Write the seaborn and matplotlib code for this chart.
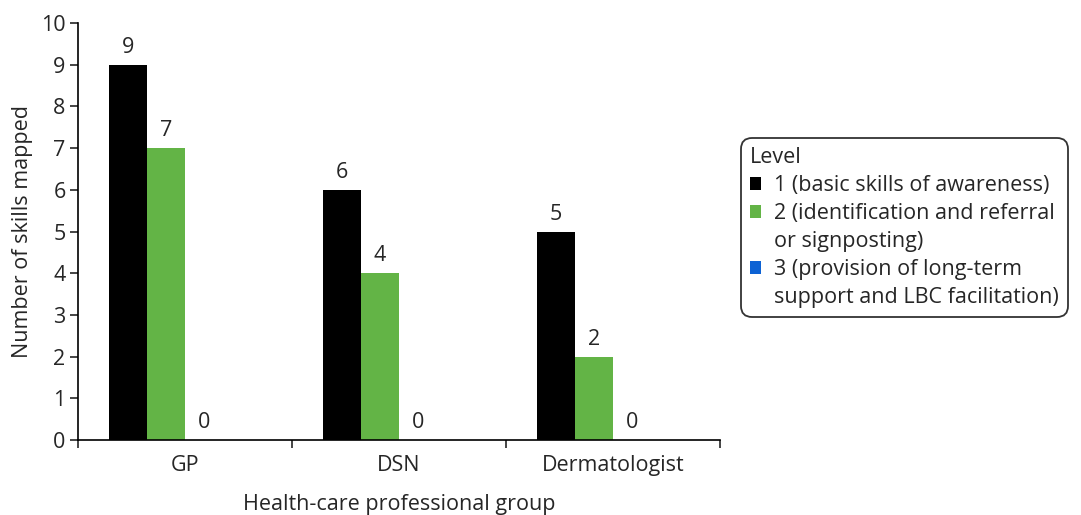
import matplotlib
matplotlib.use("Agg")
import matplotlib.pyplot as plt
import matplotlib.patches as mpatches
import seaborn as sns
import pandas as pd

groups = ["GP", "DSN", "Dermatologist"]
level1 = [9, 6, 5]
level2 = [7, 4, 2]
level3 = [0, 0, 0]
levels = ["1", "2", "3"]
level_labels = [
    "1 (basic skills of awareness)",
    "2 (identification and referral\nor signposting)",
    "3 (provision of long-term\nsupport and LBC facilitation)",
]
colors = ["#000000", "#63b446", "#0d62d4"]

sns.set_theme(style="white")
plt.rcParams["font.family"] = ["Open Sans", "DejaVu Sans"]

df = pd.DataFrame({
    "group": groups * 3,
    "level": ["1"] * 3 + ["2"] * 3 + ["3"] * 3,
    "value": level1 + level2 + level3,
})

fig = plt.figure(figsize=(10.81, 5.15), dpi=100)
ax = fig.add_axes([0.0722, 0.1456, 0.5938, 0.8097])

# a fourth (empty) slot keeps the bars left of the group centre, like the original
sns.barplot(data=df, x="group", y="value", hue="level",
            hue_order=levels + ["4"], order=groups,
            palette=colors + ["#ffffff"], width=0.71, dodge=True,
            saturation=1, linewidth=0, legend=False, ax=ax, errorbar=None)

fs = 15.5
for cont in ax.containers:
    ax.bar_label(cont, fmt="%d", padding=5, fontsize=fs)

ax.set_xlim(-0.5, 2.5)
ax.set_ylim(0, 10)
ax.set_yticks(range(0, 11))
ax.set_xticks([-0.5, 0.5, 1.5, 2.5], minor=True)
ax.tick_params(axis="x", which="major", length=0, labelsize=fs, pad=11)
ax.tick_params(axis="x", which="minor", length=6, width=1.2, bottom=True, direction="out")
ax.tick_params(axis="y", length=6, width=1.2, labelsize=fs, left=True, direction="out", pad=3)
sns.despine(ax=ax)
for s in ["left", "bottom"]:
    ax.spines[s].set_linewidth(1.2)
    ax.spines[s].set_color("black")

ax.set_xlabel("Health-care professional group", fontsize=fs, labelpad=13)
ax.set_ylabel("Number of skills mapped", fontsize=fs, labelpad=6)

# legend: continuation lines get an invisible handle so they indent like the text
handles, labels = [], []
for lab, col in zip(level_labels, colors):
    parts = lab.split("\n")
    handles.append(mpatches.Patch(facecolor=col, edgecolor="none"))
    labels.append(parts[0])
    for p in parts[1:]:
        handles.append(mpatches.Patch(facecolor="none", edgecolor="none"))
        labels.append(p)

leg = fig.legend(handles, labels, title="Level", loc="upper left",
                 bbox_to_anchor=(0.6855, 0.732), borderaxespad=0,
                 fontsize=fs, title_fontsize=fs,
                 frameon=True, fancybox=True, handlelength=0.55, handleheight=0.55,
                 handletextpad=0.6, labelspacing=0.33, borderpad=0.4,
                 alignment="left")
leg.get_frame().set_edgecolor("black")
leg.get_frame().set_linewidth(1.3)
leg.get_frame().set_boxstyle("round,pad=0,rounding_size=0.5")

fig.savefig("out.png", dpi=100)
